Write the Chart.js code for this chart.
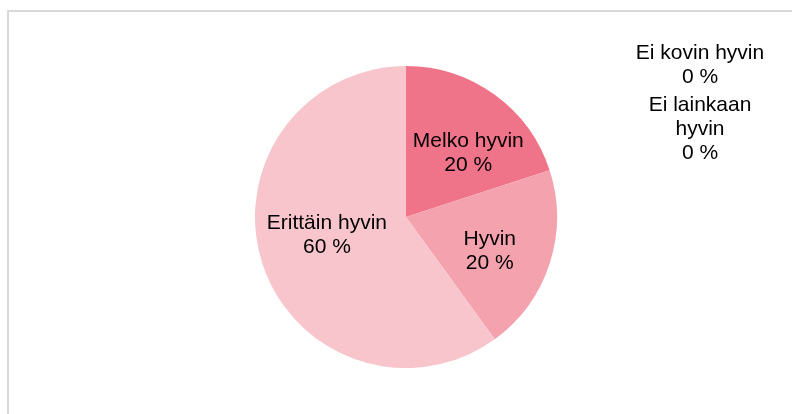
<!DOCTYPE html>
<html>
<head>
<meta charset="utf-8">
<script src="https://cdn.jsdelivr.net/npm/chart.js@4/dist/chart.umd.min.js"></script>
<style>
  html, body { margin:0; padding:0; background:#fff; }
  .wrap { position:relative; width:792px; height:414px; overflow:hidden; }
  .frame { position:absolute; left:7px; top:10px; width:800px; height:420px; border:2px solid #d9d9d9; box-sizing:border-box; }
  canvas { position:absolute; left:0; top:0; }
</style>
</head>
<body>
<div class="wrap">
  <div class="frame"></div>
  <canvas id="pie" width="792" height="414"></canvas>
</div>
<script>
// ── DATA ─────────────────────────────────────────
const labels = ['Melko hyvin', 'Hyvin', 'Erittäin hyvin', 'Ei kovin hyvin', 'Ei lainkaan hyvin'];
const values = [20, 20, 60, 0, 0];
const colors = ['#f07489', '#f4a2ae', '#f7c5cb', '#e9546b', '#c93a52'];
// zero-share labels wrap like this in the top-right corner
const zeroLines = { 'Ei kovin hyvin': ['Ei kovin hyvin'], 'Ei lainkaan hyvin': ['Ei lainkaan', 'hyvin'] };

const FONT = '21px "Liberation Sans", Arial, sans-serif';
const LINE = 24;

// ── LABEL PLUGIN ─────────────────────────────────
const sliceLabels = {
  id: 'sliceLabels',
  afterDatasetsDraw(chart) {
    const ctx = chart.ctx;
    const meta = chart.getDatasetMeta(0);
    ctx.save();
    ctx.font = FONT;
    ctx.fillStyle = '#000';
    ctx.textAlign = 'center';
    ctx.textBaseline = 'middle';

    let zy = 53;
    const zx = chart.chartArea.right + 143;
    meta.data.forEach((arc, i) => {
      const v = values[i];
      const txt = v + ' %';
      if (v > 0) {
        const { x, y, startAngle, endAngle, outerRadius } = arc.getProps(['x','y','startAngle','endAngle','outerRadius'], true);
        const mid = (startAngle + endAngle) / 2 + 0.1;
        const r = outerRadius * 0.57;
        const cx = x + Math.cos(mid) * r + 5;
        const cy = y + Math.sin(mid) * r;
        ctx.fillText(labels[i], cx, cy - LINE/2);
        ctx.fillText(txt, cx, cy + LINE/2);
      } else {
        const lines = [...(zeroLines[labels[i]] || [labels[i]]), txt];
        lines.forEach(l => { ctx.fillText(l, zx, zy); zy += LINE; });
        zy += 4;
      }
    });
    ctx.restore();
  }
};

// ── CHART ────────────────────────────────────────
new Chart(document.getElementById('pie'), {
  type: 'pie',
  data: {
    labels,
    datasets: [{ data: values, backgroundColor: colors, borderWidth: 0 }]
  },
  options: {
    responsive: false,
    animation: false,
    layout: { padding: { left: 255, right: 235, top: 66, bottom: 46 } },
    plugins: { legend: { display: false }, tooltip: { enabled: false } }
  },
  plugins: [sliceLabels]
});
</script>
</body>
</html>
